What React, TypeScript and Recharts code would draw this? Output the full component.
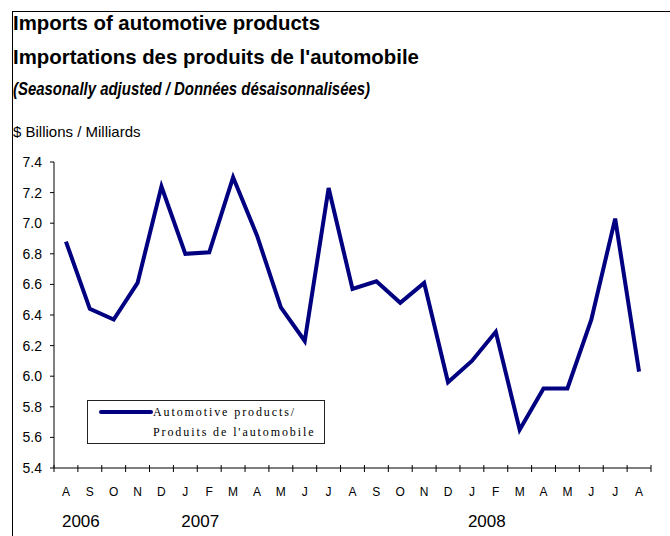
import { LineChart, Line, XAxis, YAxis, Legend } from 'recharts';

// month initials, Aug 2006 .. Aug 2008
const months = ['A', 'S', 'O', 'N', 'D', 'J', 'F', 'M', 'A', 'M', 'J', 'J', 'A', 'S', 'O', 'N', 'D', 'J', 'F', 'M', 'A', 'M', 'J', 'J', 'A'];
// year label shown under a month
const years: Record<number, string> = { 0: '2006', 5: '2007', 17: '2008' };
// $ billions
const imports = [6.88, 6.44, 6.37, 6.61, 7.24, 6.8, 6.81, 7.3, 6.92, 6.45, 6.23, 7.23, 6.57, 6.62, 6.48, 6.61, 5.96, 6.1, 6.29, 5.65, 5.92, 5.92, 6.37, 7.03, 6.03];
const yTicks = [5.4, 5.6, 5.8, 6.0, 6.2, 6.4, 6.6, 6.8, 7.0, 7.2, 7.4];

const data = imports.map((v, i) => ({ i, value: v }));

const W = 670;
const H = 536;
const margin = { top: 162, right: 19, bottom: 0, left: 0 };
const Y_WIDTH = 54;
const X_HEIGHT = 68;
const plotW = W - margin.left - margin.right - Y_WIDTH;
const HALF = plotW / months.length / 2;

const SANS = '"Liberation Sans", Arial, sans-serif';
const SERIF = '"Liberation Serif", "Times New Roman", serif';
const NAVY = '#000080';

const MonthTick = (props: any) => {
  const { x, y, payload } = props;
  const i = payload.value as number;
  return (
    <g>
      <line x1={x - HALF} x2={x - HALF} y1={y - 3} y2={y + 4} stroke="#000" />
      {i === months.length - 1 && (
        <line x1={x + HALF} x2={x + HALF} y1={y - 3} y2={y + 4} stroke="#000" />
      )}
      <text x={x} y={y + 28} textAnchor="middle" fontSize={12} fontFamily={SANS} fill="#000">
        {months[i]}
      </text>
      {years[i] && (
        <text x={x - 4} y={y + 59} textAnchor="start" fontSize={17} fontFamily={SANS} fill="#000">
          {years[i]}
        </text>
      )}
    </g>
  );
};

const LegendBox = () => (
  <div
    style={{
      position: 'relative',
      width: 238,
      height: 44,
      boxSizing: 'border-box',
      border: '1px solid #222',
      background: '#fff',
      fontFamily: SERIF,
      fontSize: 12,
      letterSpacing: 1.9,
      color: '#000',
    }}
  >
    <svg width={60} height={20} style={{ position: 'absolute', left: 10, top: 1 }}>
      <line x1={3} x2={53} y1={10} y2={10} stroke={NAVY} strokeWidth={4} strokeLinecap="round" />
    </svg>
    <div style={{ position: 'absolute', left: 65, top: 3, lineHeight: '16px', whiteSpace: 'nowrap' }}>
      Automotive products/
    </div>
    <div style={{ position: 'absolute', left: 65, top: 23, lineHeight: '16px', whiteSpace: 'nowrap' }}>
      Produits de l'automobile
    </div>
  </div>
);

const titleStyle = (top: number, size: number, extra: any = {}) => ({
  position: 'absolute' as const,
  left: 13,
  top,
  fontFamily: SANS,
  fontSize: size,
  lineHeight: 1,
  whiteSpace: 'nowrap' as const,
  color: '#000',
  ...extra,
});

export default function App() {
  return (
    <div
      style={{
        position: 'absolute',
        left: 0,
        top: 0,
        width: W,
        height: H,
        overflow: 'hidden',
        background: '#fff',
      }}
    >
      <div
        style={{
          position: 'absolute',
          left: 12,
          top: 11,
          width: 700,
          height: 600,
          border: '1px solid #000',
        }}
      />
      <div style={titleStyle(13, 20.4, { fontWeight: 'bold' })}>Imports of automotive products</div>
      <div style={titleStyle(47, 20.4, { fontWeight: 'bold' })}>Importations des produits de l'automobile</div>
      <div
        style={titleStyle(80, 18, {
          fontWeight: 'bold',
          fontStyle: 'italic',
          transform: 'scaleX(0.83)',
          transformOrigin: 'left center',
        })}
      >
        (Seasonally adjusted / Données désaisonnalisées)
      </div>
      <div style={titleStyle(124, 15)}>$ Billions / Milliards</div>

      <div style={{ position: 'absolute', left: 0, top: 0 }}>
        <LineChart width={W} height={H} data={data} margin={margin}>
          <XAxis
            dataKey="i"
            type="category"
            interval={0}
            height={X_HEIGHT}
            padding={{ left: HALF, right: HALF }}
            tickSize={0}
            tickMargin={0}
            tickLine={false}
            axisLine={{ stroke: '#000' }}
            tick={<MonthTick />}
          />
          <XAxis
            xAxisId="top"
            orientation="top"
            dataKey="i"
            height={0}
            padding={{ left: HALF, right: HALF }}
            tick={false}
            tickLine={false}
            axisLine={{ stroke: '#999' }}
          />
          <YAxis
            domain={[5.4, 7.4]}
            ticks={yTicks}
            interval={0}
            width={Y_WIDTH}
            tickSize={4}
            tickMargin={8}
            tickLine={{ stroke: '#000' }}
            axisLine={{ stroke: '#000' }}
            tick={{ fontSize: 14, fontFamily: SANS, fill: '#000' }}
            tickFormatter={(v: number) => v.toFixed(1)}
          />
          <YAxis
            yAxisId="right"
            orientation="right"
            domain={[5.4, 7.4]}
            width={0}
            tick={false}
            tickLine={false}
            axisLine={{ stroke: '#000', strokeWidth: 2 }}
          />
          <Legend
            layout="vertical"
            align="center"
            verticalAlign="middle"
            content={<LegendBox />}
            wrapperStyle={{ left: 87, top: 400, width: 238, height: 44, right: 'auto', bottom: 'auto' }}
          />
          <Line
            type="linear"
            dataKey="value"
            name="Automotive products / Produits de l'automobile"
            stroke={NAVY}
            strokeWidth={4}
            dot={false}
            activeDot={false}
            isAnimationActive={false}
          />
        </LineChart>
      </div>
    </div>
  );
}
